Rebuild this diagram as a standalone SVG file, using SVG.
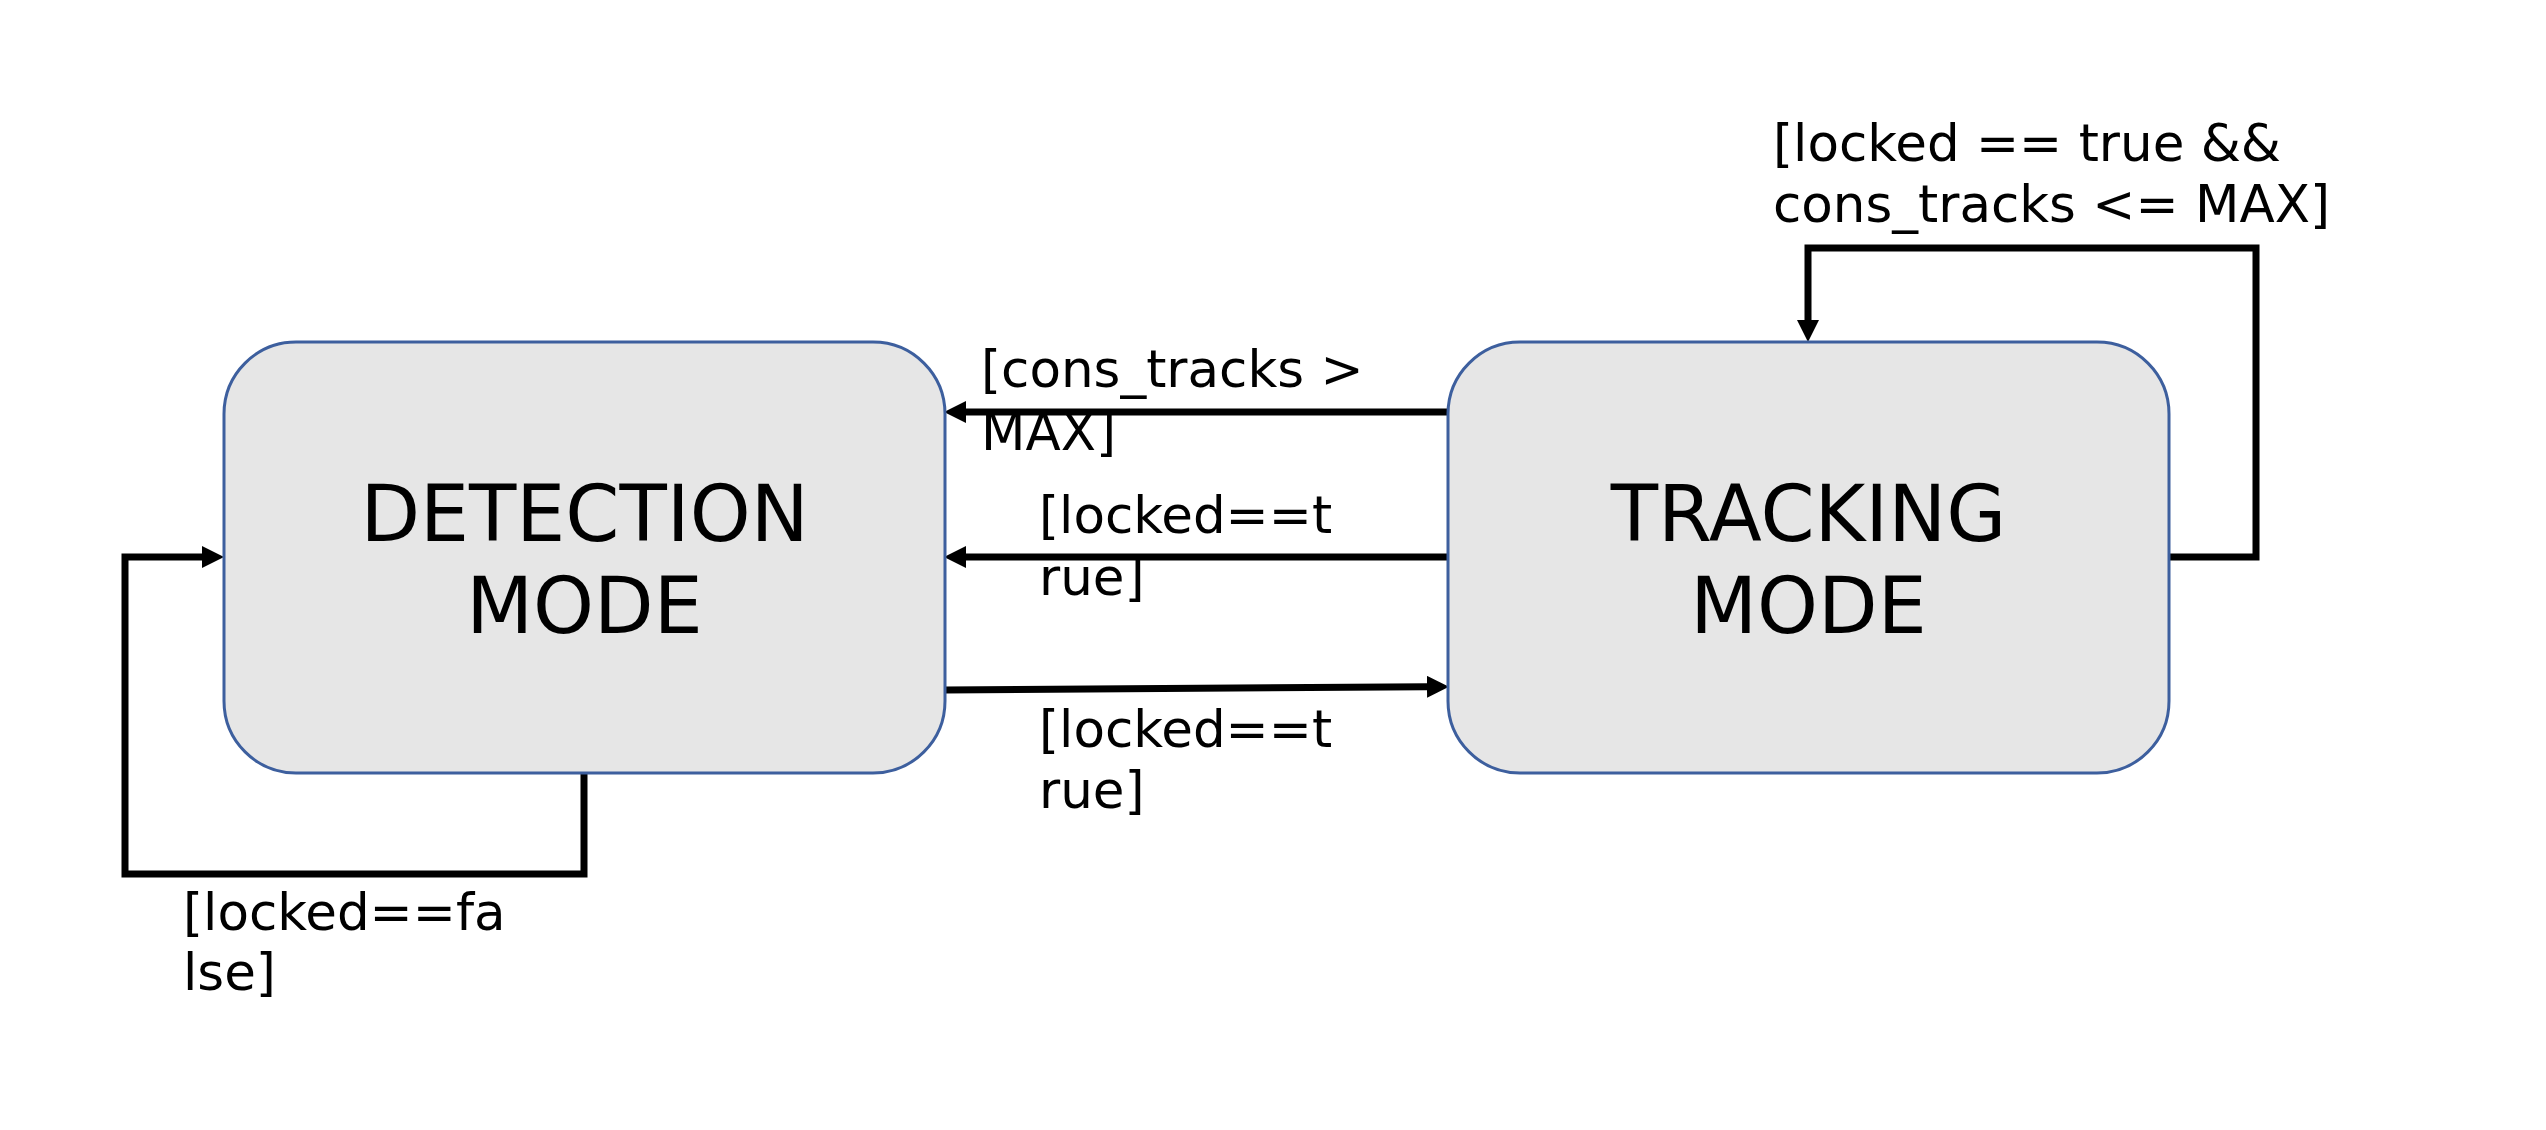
<svg xmlns="http://www.w3.org/2000/svg" width="2546" height="1130" viewBox="0 0 2546 1130">
  <style>
    .node { fill: #e6e6e6; stroke: #3d5f9e; stroke-width: 3; }
    .ntext { font-family: "DejaVu Sans", "Liberation Sans", sans-serif; font-size: 77.5px; fill: #000; text-anchor: middle; }
    .lbl { font-family: "DejaVu Sans", "Liberation Sans", sans-serif; font-size: 51.5px; fill: #000; }
    .conn { fill: none; stroke: #000; stroke-width: 7; stroke-linejoin: miter; stroke-linecap: butt; }
  </style>
  <defs>
    <marker id="arrow" markerUnits="userSpaceOnUse" markerWidth="22" markerHeight="22" refX="0" refY="10.5" orient="auto" viewBox="0 0 21 21">
      <path d="M0,0 L21,10.5 L0,21 z" fill="#000"/>
    </marker>
  </defs>
  <rect width="2546" height="1130" fill="#ffffff"/>

  <g id="connectors">
    <line class="conn" x1="1449" y1="412" x2="966" y2="412" marker-end="url(#arrow)"/>
    <line class="conn" x1="1449" y1="557" x2="966" y2="557" marker-end="url(#arrow)"/>
    <line class="conn" x1="945" y1="690" x2="1427" y2="686.8" marker-end="url(#arrow)"/>
    <path class="conn" d="M584,773 V874 H125 V557 H202" marker-end="url(#arrow)"/>
    <path class="conn" d="M2169,557 H2256 V248 H1808 V320" marker-end="url(#arrow)"/>
  </g>

  <g id="detection">
    <rect class="node" x="224" y="342" width="721" height="431" rx="72" ry="72"/>
    <text class="ntext" x="584.5" y="541">DETECTION</text>
    <text class="ntext" x="584.5" y="633">MODE</text>
  </g>

  <g id="tracking">
    <rect class="node" x="1448" y="342" width="721" height="431" rx="72" ry="72"/>
    <text class="ntext" x="1808.5" y="541">TRACKING</text>
    <text class="ntext" x="1808.5" y="633">MODE</text>
  </g>

  <g id="labels">
    <text class="lbl" x="981" y="387">[cons_tracks &gt;</text>
    <text class="lbl" x="981" y="450">MAX]</text>
    <text class="lbl" x="1039" y="533">[locked==t</text>
    <text class="lbl" x="1039" y="595">rue]</text>
    <text class="lbl" x="1039" y="747">[locked==t</text>
    <text class="lbl" x="1039" y="808">rue]</text>
    <text class="lbl" x="183" y="930">[locked==fa</text>
    <text class="lbl" x="183" y="990">lse]</text>
    <text class="lbl" x="1773" y="161">[locked == true &amp;&amp;</text>
    <text class="lbl" x="1773" y="222">cons_tracks &lt;= MAX]</text>
  </g>
</svg>
